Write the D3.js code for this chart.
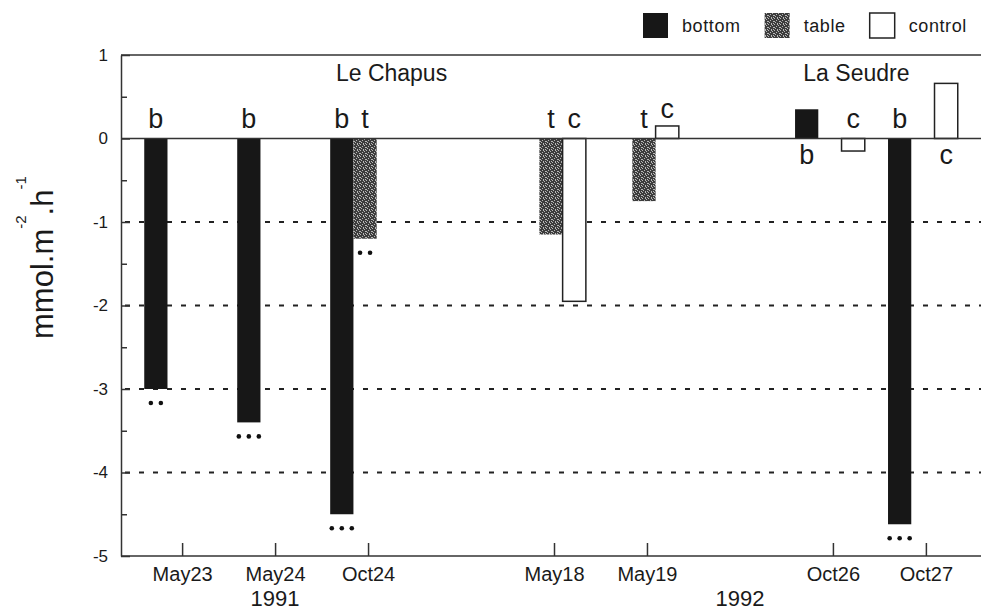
<!DOCTYPE html>
<html>
<head>
<meta charset="utf-8">
<script src="https://cdn.jsdelivr.net/npm/d3@7"></script>
<style>
  body { margin: 0; background: #fff; }
  svg { display: block; }
  text { font-family: "Liberation Sans", Arial, sans-serif; fill: #1a1a1a; }
</style>
</head>
<body>
<div id="chart"></div>
<script>
// Data
const dates = ["May23", "May24", "Oct24", "May18", "May19", "Oct26", "Oct27"];
const dateYear = ["1991", "1991", "1991", "1992", "1992", "1992", "1992"];
const years = ["1991", "1992"];
const sites = ["Le Chapus", "La Seudre"];
const siteFirst = ["May23", "Oct26"];
const siteLast = ["May19", "Oct27"];
const series = ["bottom", "table", "control"];
const letters = ["b", "t", "c"];
const bottomValues = [-3.0, -3.4, -4.5, null, null, 0.35, -4.62];
const tableValues = [null, null, -1.2, -1.15, -0.75, null, null];
const controlValues = [null, null, null, -1.95, 0.15, -0.15, 0.66];
const bottomStars = [2, 3, 3, 0, 0, 0, 3];
const tableStars = [0, 0, 2, 0, 0, 0, 0];
const controlStars = [0, 0, 0, 0, 0, 0, 0];
const yTicks = [1, 0, -1, -2, -3, -4, -5];
const yMinor = [0.5, -0.5, -1.5, -2.5, -3.5, -4.5];
const gridValues = [-1, -2, -3, -4];

const width = 981, height = 612;
const plotLeft = 121, plotRight = 981, plotTop = 55, plotBottom = 556;

const svg = d3.select("#chart").append("svg")
    .attr("width", width)
    .attr("height", height);

// empty slots separate the 1991 / May 1992 / Oct 1992 groups
const slots = [...dates.slice(0, 3), "gap1", ...dates.slice(3, 5), "gap2", ...dates.slice(5)];

const x = d3.scaleBand().domain(slots).range([plotLeft, plotRight])
    .paddingInner(0.25).paddingOuter(0.25);
const xs = d3.scaleBand().domain(series).range([0, x.bandwidth()]);
const y = d3.scaleLinear().domain([-5, 1]).range([plotBottom, plotTop]);
const tickX = d => x(d) + x.bandwidth() / 2 + 3;

// stipple pattern for the "table" treatment
const pat = svg.append("defs").append("pattern")
    .attr("id", "stipple")
    .attr("width", 6).attr("height", 6)
    .attr("patternUnits", "userSpaceOnUse");
pat.append("rect").attr("width", 6).attr("height", 6).attr("fill", "#3d3d3d");
pat.selectAll("rect.dot")
    .data([[0, 0], [4, 1], [2, 2], [5, 3], [1, 4], [3, 5], [3, 0], [0, 3], [5, 5]])
    .join("rect")
    .attr("class", "dot")
    .attr("x", d => d[0]).attr("y", d => d[1])
    .attr("width", 1).attr("height", 1)
    .attr("fill", "#b8b8b8");

const fills = { bottom: "#171717", table: "url(#stipple)", control: "#fff" };

// dashed gridlines
svg.selectAll(".grid")
    .data(gridValues)
    .join("line")
    .attr("class", "grid")
    .attr("x1", plotLeft + 4).attr("x2", plotRight)
    .attr("y1", d => y(d)).attr("y2", d => y(d))
    .attr("stroke", "#222")
    .attr("stroke-width", 2)
    .attr("stroke-dasharray", "5,9");

// frame: top line
svg.append("line")
    .attr("x1", plotLeft).attr("x2", plotRight)
    .attr("y1", y(1)).attr("y2", y(1))
    .attr("stroke", "#333").attr("stroke-width", 1.5);

// bars
const valuesBySeries = [bottomValues, tableValues, controlValues];
const starsBySeries = [bottomStars, tableStars, controlStars];
const bars = [];
dates.forEach((d, i) => {
    series.forEach((s, j) => {
        const v = valuesBySeries[j][i];
        if (v == null) return;
        bars.push({ date: d, series: s, value: v, stars: starsBySeries[j][i], letter: letters[j] });
    });
});
const cx = d => x(d.date) + xs(d.series) + xs.bandwidth() / 2;

svg.selectAll(".bar")
    .data(bars)
    .join("rect")
    .attr("class", "bar")
    .attr("x", d => x(d.date) + xs(d.series))
    .attr("y", d => y(Math.max(0, d.value)))
    .attr("width", xs.bandwidth())
    .attr("height", d => Math.abs(y(d.value) - y(0)))
    .attr("fill", d => fills[d.series])
    .attr("stroke", d => d.series === "control" ? "#222" : "none")
    .attr("stroke-width", 1.5);

// zero line
svg.append("line")
    .attr("x1", plotLeft).attr("x2", plotRight)
    .attr("y1", y(0)).attr("y2", y(0))
    .attr("stroke", "#333").attr("stroke-width", 1.5);

// letters b / t / c
svg.selectAll(".letter")
    .data(bars)
    .join("text")
    .attr("class", "letter")
    .attr("x", cx)
    .attr("y", d => d.value < 0 ? y(0) - 11 : (d.value < 0.25 ? y(d.value) - 8 : y(0) + 25))
    .attr("text-anchor", "middle")
    .style("font-size", "27px")
    .text(d => d.letter);

// significance dots
const dots = [];
bars.forEach(b => {
    for (let k = 0; k < b.stars; k++) dots.push({ bar: b, k });
});
svg.selectAll(".star")
    .data(dots)
    .join("circle")
    .attr("class", "star")
    .attr("cx", d => cx(d.bar) + (d.k - (d.bar.stars - 1) / 2) * 10)
    .attr("cy", d => y(d.bar.value) + 14)
    .attr("r", 2.3)
    .attr("fill", "#111");

// y axis
const yAxis = svg.append("g")
    .attr("transform", `translate(${plotLeft},0)`)
    .call(d3.axisLeft(y).tickValues(yTicks).tickFormat(d => String(d))
        .tickSizeInner(-9).tickSizeOuter(0).tickPadding(13))
    .attr("font-size", null).attr("font-family", null);
yAxis.select(".domain").attr("stroke", "#333").attr("stroke-width", 1.5);
yAxis.selectAll(".tick line").attr("stroke", "#333").attr("stroke-width", 1.5);
yAxis.selectAll("text").style("font-size", "17px").attr("fill", "#1a1a1a");

svg.append("g")
    .attr("transform", `translate(${plotLeft},0)`)
    .call(d3.axisLeft(y).tickValues(yMinor).tickSizeInner(-6).tickSizeOuter(0).tickFormat(""))
    .call(g => g.select(".domain").remove())
    .selectAll(".tick line").attr("stroke", "#333").attr("stroke-width", 1.5);

// x axis (ticks point up)
const xTickScale = d3.scaleOrdinal().domain(dates).range(dates.map(tickX));
const xAxis = svg.append("g")
    .attr("transform", `translate(0,${plotBottom})`)
    .call(d3.axisBottom(xTickScale).tickSizeInner(-13).tickSizeOuter(0).tickPadding(11))
    .attr("font-size", null).attr("font-family", null);
xAxis.select(".domain").remove();
xAxis.selectAll(".tick line").attr("stroke", "#333").attr("stroke-width", 1.5);
xAxis.selectAll("text").style("font-size", "20px").attr("fill", "#1a1a1a");

svg.append("line")
    .attr("x1", plotLeft).attr("x2", plotRight)
    .attr("y1", plotBottom).attr("y2", plotBottom)
    .attr("stroke", "#333").attr("stroke-width", 1.5);

// year labels under each group of dates
svg.selectAll(".year")
    .data(years)
    .join("text")
    .attr("class", "year")
    .attr("x", yr => d3.mean(dates.filter((d, i) => dateYear[i] === yr), tickX))
    .attr("y", 606)
    .attr("text-anchor", "middle")
    .style("font-size", "22px")
    .text(d => d);

// site labels
svg.selectAll(".site")
    .data(sites)
    .join("text")
    .attr("class", "site")
    .attr("x", (s, i) => (x(siteFirst[i]) + x(siteLast[i]) + x.bandwidth()) / 2 - 20)
    .attr("y", 81)
    .attr("text-anchor", "middle")
    .style("font-size", "23px")
    .text(d => d);

// y axis title
const yTitle = svg.append("text")
    .attr("transform", "translate(53,339) rotate(-90)")
    .style("font-size", "31px");
yTitle.append("tspan").text("mmol.m");
yTitle.append("tspan").attr("dy", -27).style("font-size", "15px").text("-2");
yTitle.append("tspan").attr("dy", 27).text(".h");
yTitle.append("tspan").attr("dy", -27).style("font-size", "15px").text("-1");

// legend
const legend = svg.append("g").attr("class", "legend");
let lx = 643;
series.forEach(s => {
    legend.append("rect")
        .attr("x", lx).attr("y", 13)
        .attr("width", 25).attr("height", 25)
        .attr("fill", fills[s])
        .attr("stroke", s === "control" ? "#222" : "none")
        .attr("stroke-width", 1.5);
    const t = legend.append("text")
        .attr("x", lx + 39).attr("y", 32)
        .style("font-size", "18px")
        .style("letter-spacing", "0.6px")
        .text(s);
    lx += 39 + t.node().getComputedTextLength() + 24;
});
</script>
</body>
</html>
